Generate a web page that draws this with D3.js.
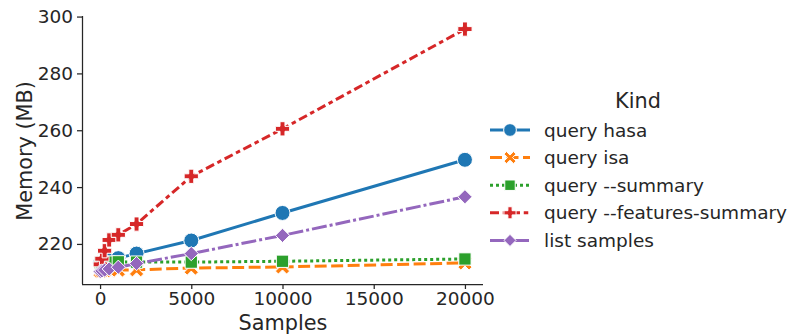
<!DOCTYPE html>
<html>
<head>
<meta charset="utf-8">
<script src="https://cdn.jsdelivr.net/npm/d3@7"></script>
<style>
  body { margin: 0; background: #fff; }
  text { font-family: "DejaVu Sans", sans-serif; fill: #262626; }
</style>
</head>
<body>
<svg id="chart"></svg>
<script>
const width = 791;
const height = 335;

const samples = [10, 100, 250, 500, 1000, 2000, 5000, 10000, 20000];
const kinds = ["query hasa", "query isa", "query --summary", "query --features-summary", "list samples"];

const hasa = [213.4, 213.6, 213.8, 214.2, 215.0, 216.6, 221.2, 230.9, 249.6];
const isa = [210.4, 210.5, 210.6, 210.7, 210.8, 210.9, 211.5, 211.9, 213.3];
const summary = [213.4, 213.5, 213.5, 213.6, 213.7, 213.6, 213.6, 213.9, 214.7];
const featuresSummary = [212.8, 214.8, 217.6, 221.4, 223.2, 227.0, 243.8, 260.5, 295.6];
const listSamples = [210.3, 210.5, 210.8, 211.2, 211.8, 213.1, 216.6, 223.0, 236.6];

const xTicks = [0, 5000, 10000, 15000, 20000];
const yTicks = [220, 240, 260, 280, 300];

const series = [hasa, isa, summary, featuresSummary, listSamples];

const colors = ["#1f77b4", "#ff7f0e", "#2ca02c", "#d62728", "#9467bd"];
const lw = 3;
const dashes = ["", `${4 * lw},${1.5 * lw}`, `${1 * lw},${1 * lw}`,
  `${3 * lw},${1.25 * lw},${1.5 * lw},${1.25 * lw}`, `${5 * lw},${1 * lw},${1 * lw},${1 * lw}`];

const tickFont = 18.5;
const labelFont = 20.8;

const svg = d3.select("#chart").attr("width", width).attr("height", height);

const x = d3.scaleLinear().domain([-990, 20990]).range([82, 483]);
const y = d3.scaleLinear().domain([205.9, 300.2]).range([284, 16]);

// marker shapes, sized roughly like seaborn's defaults
const markerPath = (i, s) => {
  const h = s / 2;
  if (i === 0) return d3.symbol(d3.symbolCircle, Math.PI * h * h)();
  if (i === 1) {
    const a = h * 0.95, b = h * 0.4;
    return `M${-a},${-a + b}L${-a + b},${-a}L0,${-b}L${a - b},${-a}L${a},${-a + b}L${b},0L${a},${a - b}L${a - b},${a}L0,${b}L${-a + b},${a}L${-a},${a - b}L${-b},0Z`;
  }
  if (i === 2) { const a = h * 0.82; return `M${-a},${-a}H${a}V${a}H${-a}Z`; }
  if (i === 3) {
    const a = h * 0.95, b = h * 0.33;
    return `M${-b},${-a}H${b}V${-b}H${a}V${b}H${b}V${a}H${-b}V${b}H${-a}V${-b}H${-b}Z`;
  }
  const a = h * 0.95;
  return `M0,${-a}L${a},0L0,${a}L${-a},0Z`;
};

const markerSize = 15;

// axes
const xAxis = svg.append("g")
  .attr("transform", `translate(0,${284})`)
  .call(d3.axisBottom(x).tickValues(xTicks).tickSize(5).tickPadding(3).tickFormat(d3.format("d")));
const yAxis = svg.append("g")
  .attr("transform", `translate(${82},0)`)
  .call(d3.axisLeft(y).tickValues(yTicks).tickSize(5).tickPadding(4));
[xAxis, yAxis].forEach((g) => {
  g.selectAll("path").attr("stroke", "#262626").attr("stroke-width", 1.25);
  g.selectAll("line").attr("stroke", "#262626").attr("stroke-width", 1.25);
  g.selectAll("text").attr("font-size", tickFont).attr("font-family", "DejaVu Sans").attr("fill", "#262626");
});
xAxis.select(".domain").attr("d", `M82,0.5H483`);
yAxis.select(".domain").attr("d", `M0.5,284V16`);

svg.append("text")
  .attr("x", 283).attr("y", 330)
  .attr("text-anchor", "middle")
  .attr("font-size", labelFont)
  .text("Samples");
svg.append("text")
  .attr("transform", `translate(32,${151}) rotate(-90)`)
  .attr("text-anchor", "middle")
  .attr("font-size", labelFont)
  .text("Memory (MB)");

// lines
const line = d3.line().x((d) => x(d[0])).y((d) => y(d[1]));
const plot = svg.append("g");

series.forEach((vals, i) => {
  const pts = samples.map((s, j) => [s, vals[j]]);
  const g = plot.append("g");
  g.append("path")
    .attr("d", line(pts))
    .attr("fill", "none")
    .attr("stroke", colors[i])
    .attr("stroke-width", lw)
    .attr("stroke-dasharray", dashes[i]);
  g.selectAll("path.marker")
    .data(pts)
    .join("path")
    .attr("class", "marker")
    .attr("d", markerPath(i, markerSize))
    .attr("transform", (d) => `translate(${x(d[0])},${y(d[1])})`)
    .attr("fill", colors[i])
    .attr("stroke", "#fff")
    .attr("stroke-width", 1);
});

// legend
const legend = svg.append("g");
legend.append("text")
  .attr("x", 638).attr("y", 108)
  .attr("text-anchor", "middle")
  .attr("font-size", labelFont)
  .text("Kind");

kinds.forEach((k, i) => {
  const yy = 130 + i * 27.6;
  const row = legend.append("g").attr("transform", `translate(0,${yy})`);
  row.append("line")
    .attr("x1", 490).attr("x2", 530)
    .attr("stroke", colors[i])
    .attr("stroke-width", lw)
    .attr("stroke-dasharray", dashes[i]);
  row.append("path")
    .attr("d", markerPath(i, markerSize * 0.85))
    .attr("transform", "translate(510,0)")
    .attr("fill", colors[i])
    .attr("stroke", "#fff")
    .attr("stroke-width", 1);
  row.append("text")
    .attr("x", 544).attr("y", 6.5)
    .attr("font-size", tickFont)
    .text(k);
});
</script>
</body>
</html>
